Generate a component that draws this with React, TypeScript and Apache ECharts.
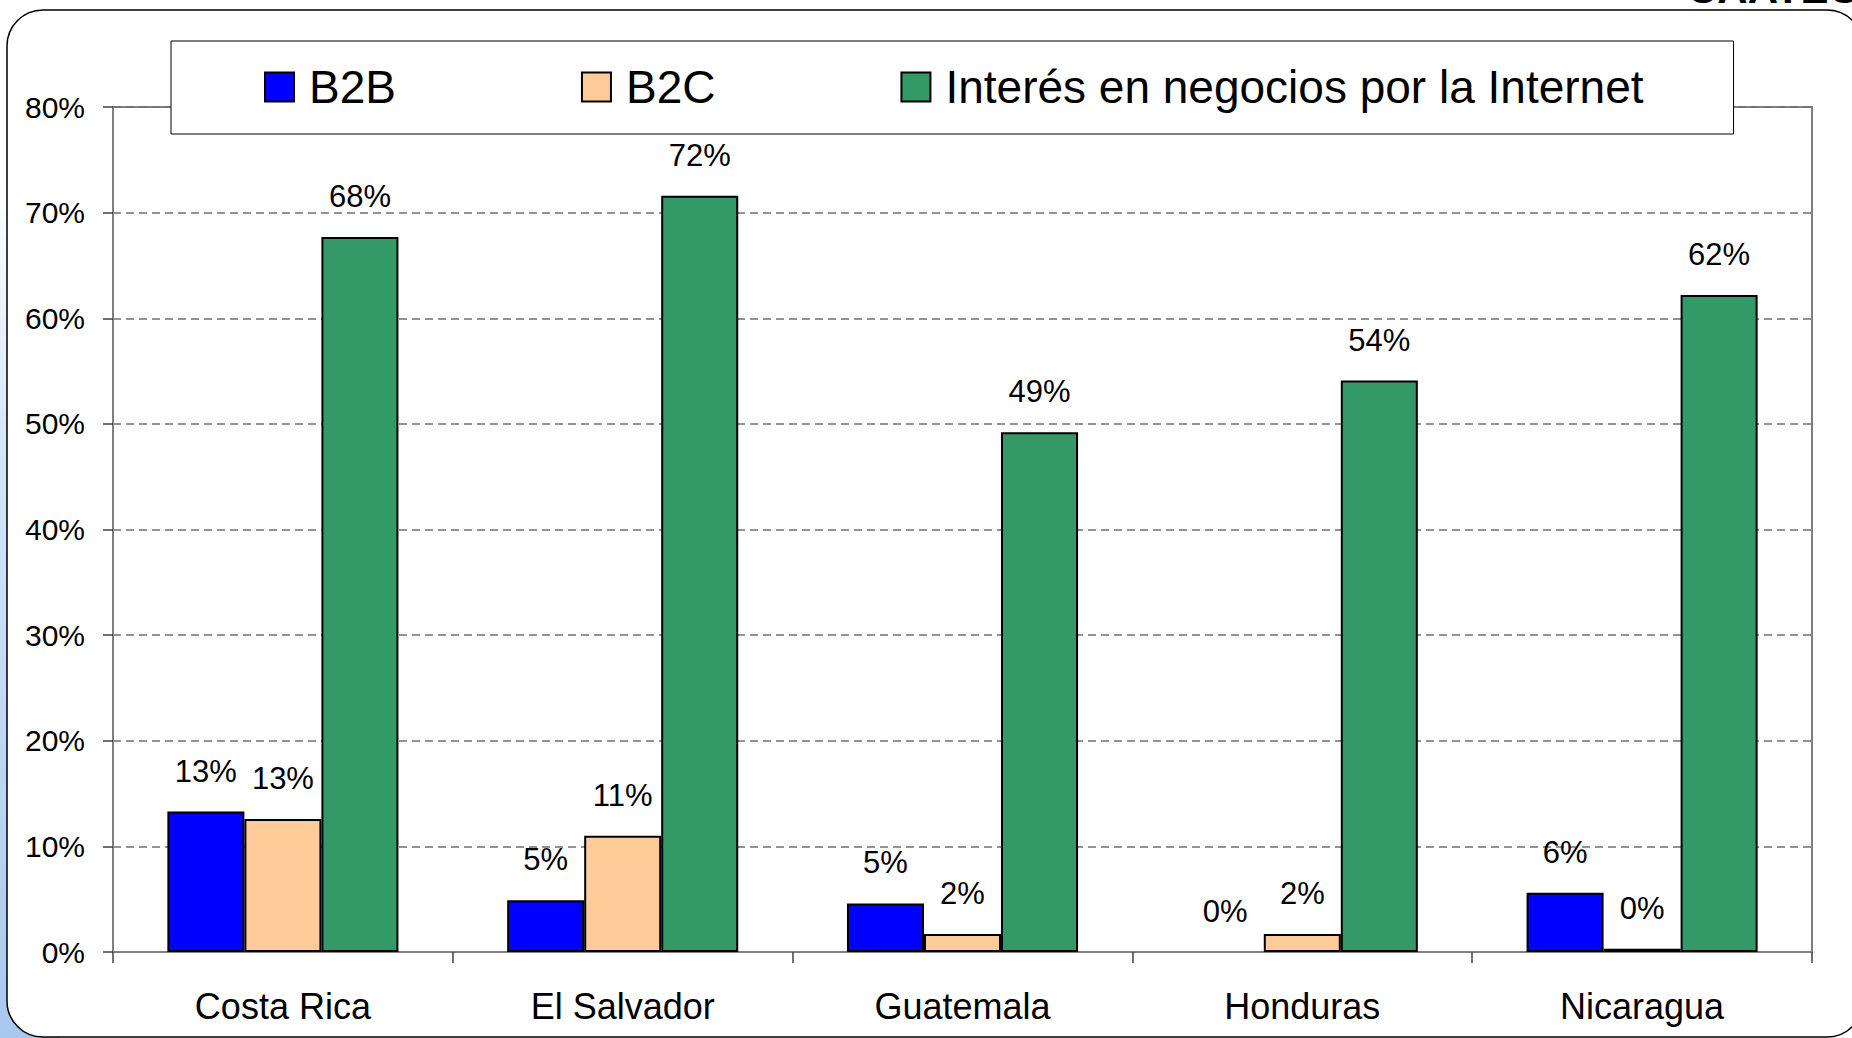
import React, { useEffect, useRef } from "react";
import * as echarts from "echarts";

const categories = ["Costa Rica", "El Salvador", "Guatemala", "Honduras", "Nicaragua"];
const seriesNames = ["B2B", "B2C", "Interés en negocios por la Internet"];
const b2b = [13.3, 4.9, 4.6, 0, 5.6];
const b2c = [12.6, 11.0, 1.7, 1.7, 0.3];
const interes = [67.7, 71.6, 49.2, 54.1, 62.2];
const seriesColors = ["#0000FF", "#FFCC99", "#339966"];
const yMin = 0;
const yMax = 80;
const yInterval = 10;

const FONT = "'Liberation Sans', Arial, sans-serif";

export default function App() {
  const ref = useRef<HTMLDivElement>(null);

  useEffect(() => {
    if (!ref.current) return;
    const chart = echarts.init(ref.current, null, { renderer: "svg" });
    const allData = [b2b, b2c, interes];

    const series = allData.map((arr, i) => ({
      name: seriesNames[i],
      type: "bar",
      barGap: "0%",
      barCategoryGap: "32%",
      itemStyle: { color: seriesColors[i], borderColor: "#000", borderWidth: 2 },
      label: {
        show: true,
        position: "top",
        distance: 25,
        color: "#000",
        fontSize: 31,
        fontFamily: FONT,
        formatter: (p: any) => Math.round(p.value) + "%",
      },
      data: arr.map((v) => (v === 0 ? { value: v, itemStyle: { borderWidth: 0 } } : v)),
    }));

    chart.setOption({
      animation: false,
      backgroundColor: "#fff",
      textStyle: { fontFamily: FONT },
      graphic: [
        {
          type: "rect",
          z: -20,
          shape: { x: 0, y: 180, width: 60, height: 858 },
          style: {
            fill: new echarts.graphic.LinearGradient(0, 0, 0, 1, [
              { offset: 0, color: "#ffffff" },
              { offset: 0.3, color: "#d6e6f8" },
              { offset: 1, color: "#a9c8ee" },
            ]),
          },
        },
        {
          type: "rect",
          z: -10,
          shape: { x: 7, y: 10, width: 1856, height: 1027, r: 36 },
          style: { fill: "#fff", stroke: "#000", lineWidth: 1.5 },
        },
        {
          type: "text",
          z: -5,
          x: 1687,
          y: 9,
          style: {
            text: "CAATEC",
            fill: "#000",
            font: "bold 42px " + FONT,
            textVerticalAlign: "bottom",
          },
        },
      ],
      legend: {
        left: 171,
        top: 41,
        padding: [23, 90, 24, 93],
        backgroundColor: "#fff",
        borderColor: "#000",
        borderWidth: 1,
        itemWidth: 29,
        itemHeight: 29,
        itemGap: 185,
        icon: "rect",
        textStyle: { fontSize: 46, color: "#000", fontFamily: FONT, padding: [0, 0, 0, 10] },
        data: seriesNames,
      },
      grid: {
        left: 113,
        right: 40,
        top: 107,
        bottom: 86,
        show: true,
        borderColor: "#808080",
        borderWidth: 2,
        backgroundColor: "transparent",
      },
      xAxis: {
        type: "category",
        data: categories,
        axisLine: { lineStyle: { color: "#808080", width: 2 } },
        axisTick: { show: true, length: 11, lineStyle: { color: "#404040", width: 1.5 } },
        axisLabel: { color: "#000", fontSize: 36, margin: 36, fontFamily: FONT },
      },
      yAxis: {
        type: "value",
        min: yMin,
        max: yMax,
        interval: yInterval,
        axisLine: { show: true, lineStyle: { color: "#808080", width: 2 } },
        axisTick: { show: true, length: 10, lineStyle: { color: "#404040", width: 1.5 } },
        axisLabel: { color: "#000", fontSize: 30, margin: 28, fontFamily: FONT, formatter: "{value}%" },
        splitLine: { show: true, lineStyle: { color: "#707070", width: 1.5, type: [8, 5] } },
      },
      series,
    });

    return () => chart.dispose();
  }, []);

  return (
    <div
      ref={ref}
      style={{ position: "absolute", left: 0, top: 0, width: 1852, height: 1038 }}
    />
  );
}
